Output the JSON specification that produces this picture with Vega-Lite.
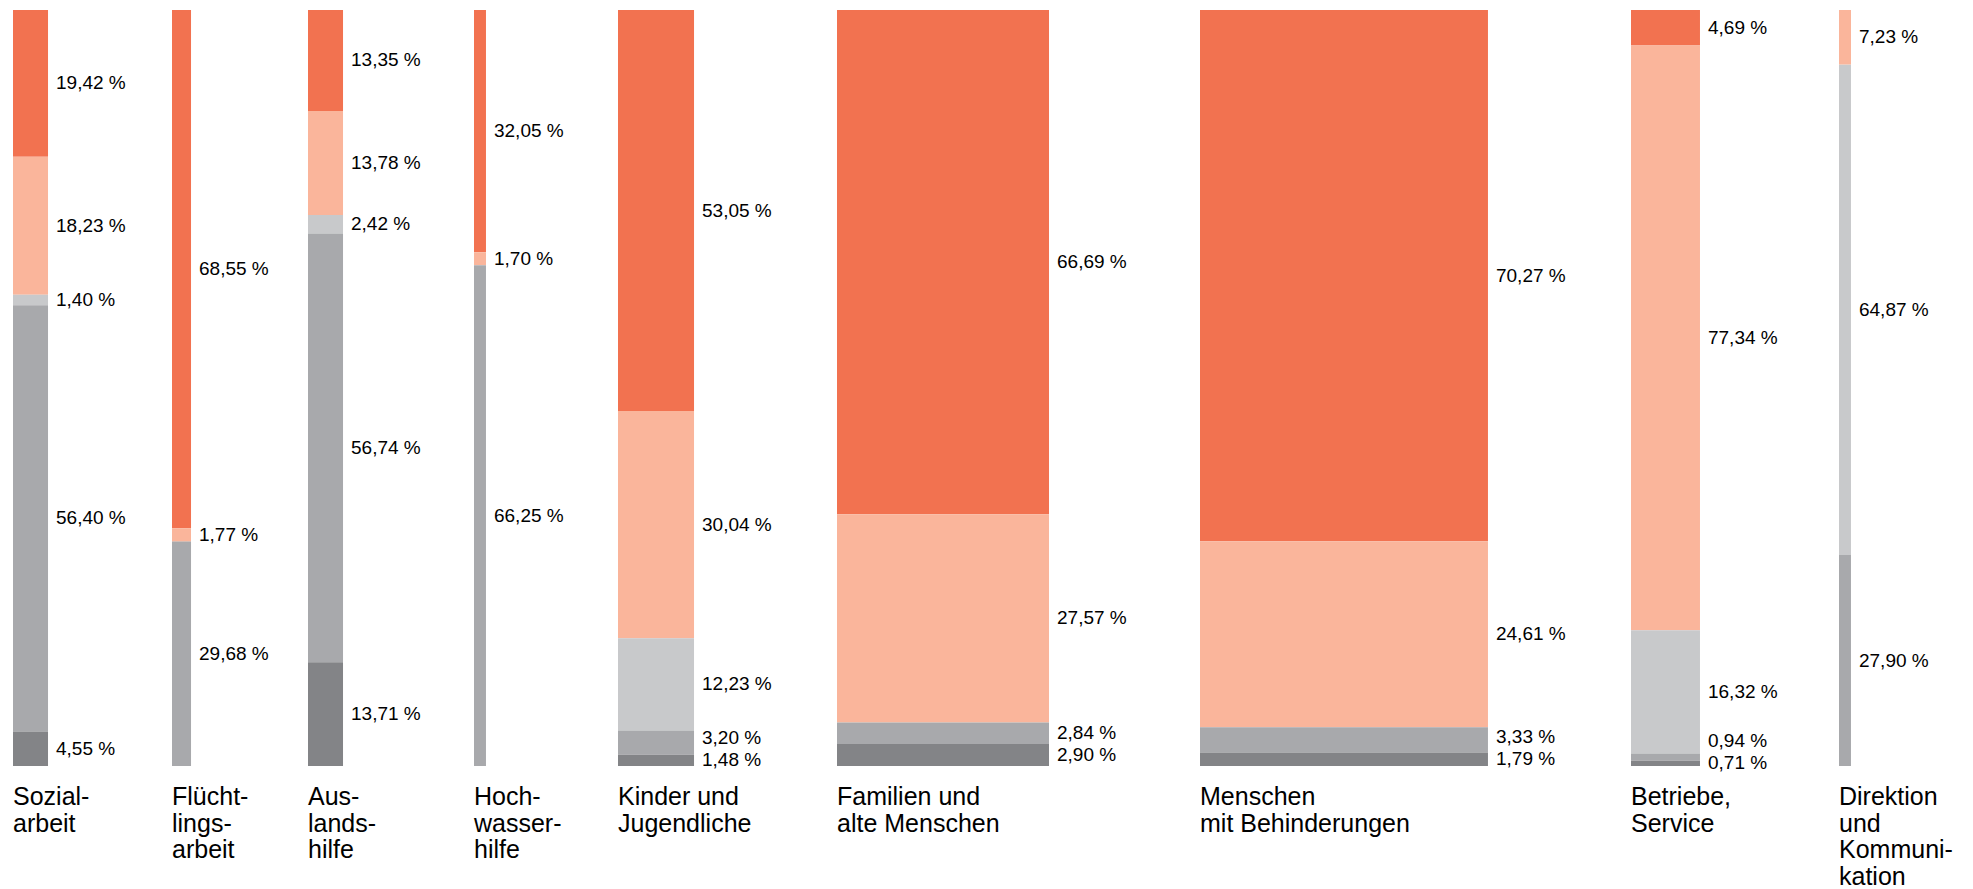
{
  "$schema": "https://vega.github.io/schema/vega-lite/v6.json",
  "padding": {"left": 13, "top": 9, "right": 0, "bottom": 0},
  "background": "#ffffff",
  "spacing": 0,
  "bounds": "flush",
  "datasets": {
    "bereiche": [
      {"Bereich": "Sozialarbeit", "Label": "Sozial-\narbeit", "Anteil": 4.62},
      {"Bereich": "Flüchtlingsarbeit", "Label": "Flücht-\nlings-\narbeit", "Anteil": 2.51},
      {"Bereich": "Auslandshilfe", "Label": "Aus-\nlands-\nhilfe", "Anteil": 4.62},
      {"Bereich": "Hochwasserhilfe", "Label": "Hoch-\nwasser-\nhilfe", "Anteil": 1.58},
      {"Bereich": "Kinder und Jugendliche", "Label": "Kinder und\nJugendliche", "Anteil": 10.03},
      {"Bereich": "Familien und alte Menschen", "Label": "Familien und\nalte Menschen", "Anteil": 27.97},
      {"Bereich": "Menschen mit Behinderungen", "Label": "Menschen\nmit Behinderungen", "Anteil": 37.99},
      {"Bereich": "Betriebe, Service", "Label": "Betriebe,\nService", "Anteil": 9.10},
      {"Bereich": "Direktion und Kommunikation", "Label": "Direktion\nund\nKommuni-\nkation", "Anteil": 1.58}
    ],
    "segmente": [
      {"Bereich": "Sozialarbeit", "Kategorie": "K1", "Wert": 19.42},
      {"Bereich": "Sozialarbeit", "Kategorie": "K2", "Wert": 18.23},
      {"Bereich": "Sozialarbeit", "Kategorie": "K3", "Wert": 1.40},
      {"Bereich": "Sozialarbeit", "Kategorie": "K4", "Wert": 56.40},
      {"Bereich": "Sozialarbeit", "Kategorie": "K5", "Wert": 4.55},
      {"Bereich": "Flüchtlingsarbeit", "Kategorie": "K1", "Wert": 68.55},
      {"Bereich": "Flüchtlingsarbeit", "Kategorie": "K2", "Wert": 1.77},
      {"Bereich": "Flüchtlingsarbeit", "Kategorie": "K4", "Wert": 29.68},
      {"Bereich": "Auslandshilfe", "Kategorie": "K1", "Wert": 13.35},
      {"Bereich": "Auslandshilfe", "Kategorie": "K2", "Wert": 13.78},
      {"Bereich": "Auslandshilfe", "Kategorie": "K3", "Wert": 2.42},
      {"Bereich": "Auslandshilfe", "Kategorie": "K4", "Wert": 56.74},
      {"Bereich": "Auslandshilfe", "Kategorie": "K5", "Wert": 13.71},
      {"Bereich": "Hochwasserhilfe", "Kategorie": "K1", "Wert": 32.05},
      {"Bereich": "Hochwasserhilfe", "Kategorie": "K2", "Wert": 1.70},
      {"Bereich": "Hochwasserhilfe", "Kategorie": "K4", "Wert": 66.25},
      {"Bereich": "Kinder und Jugendliche", "Kategorie": "K1", "Wert": 53.05},
      {"Bereich": "Kinder und Jugendliche", "Kategorie": "K2", "Wert": 30.04},
      {"Bereich": "Kinder und Jugendliche", "Kategorie": "K3", "Wert": 12.23},
      {"Bereich": "Kinder und Jugendliche", "Kategorie": "K4", "Wert": 3.20},
      {"Bereich": "Kinder und Jugendliche", "Kategorie": "K5", "Wert": 1.48},
      {"Bereich": "Familien und alte Menschen", "Kategorie": "K1", "Wert": 66.69},
      {"Bereich": "Familien und alte Menschen", "Kategorie": "K2", "Wert": 27.57},
      {"Bereich": "Familien und alte Menschen", "Kategorie": "K4", "Wert": 2.84},
      {"Bereich": "Familien und alte Menschen", "Kategorie": "K5", "Wert": 2.90},
      {"Bereich": "Menschen mit Behinderungen", "Kategorie": "K1", "Wert": 70.27},
      {"Bereich": "Menschen mit Behinderungen", "Kategorie": "K2", "Wert": 24.61},
      {"Bereich": "Menschen mit Behinderungen", "Kategorie": "K4", "Wert": 3.33},
      {"Bereich": "Menschen mit Behinderungen", "Kategorie": "K5", "Wert": 1.79},
      {"Bereich": "Betriebe, Service", "Kategorie": "K1", "Wert": 4.69},
      {"Bereich": "Betriebe, Service", "Kategorie": "K2", "Wert": 77.34},
      {"Bereich": "Betriebe, Service", "Kategorie": "K3", "Wert": 16.32},
      {"Bereich": "Betriebe, Service", "Kategorie": "K4", "Wert": 0.94},
      {"Bereich": "Betriebe, Service", "Kategorie": "K5", "Wert": 0.71},
      {"Bereich": "Direktion und Kommunikation", "Kategorie": "K2", "Wert": 7.23},
      {"Bereich": "Direktion und Kommunikation", "Kategorie": "K3", "Wert": 64.87},
      {"Bereich": "Direktion und Kommunikation", "Kategorie": "K4", "Wert": 27.90}
    ]
  },
  "data": {"name": "segmente"},
  "transform": [
    {"lookup": "Bereich", "from": {"data": {"name": "bereiche"}, "key": "Bereich", "fields": ["Anteil", "Label"]}},
    {"calculate": "replace(format(datum.Wert, '.2f'), '.', ',') + ' %'", "as": "Text"},
    {"calculate": "0", "as": "Basis"},
    {"stack": "Wert", "groupby": ["Bereich"], "sort": [{"field": "Kategorie", "order": "descending"}], "as": ["y0", "y1"]},
    {"calculate": "(datum.y0 + datum.y1) / 2", "as": "mid"},
    {"window": [{"op": "lag", "field": "mid", "as": "prevMid"}], "groupby": ["Bereich"], "sort": [{"field": "y0", "order": "ascending"}]},
    {"calculate": "datum.prevMid == null ? datum.mid : max(datum.mid, datum.prevMid + 2.9)", "as": "labelY"}
  ],
  "hconcat": [
    {"width": 159, "height": 756, "transform": [{"filter": {"field": "Bereich", "equal": "Sozialarbeit"}}],
     "layer": [
      {"mark": {"type": "bar"}, "encoding": {"x": {"field": "Basis", "type": "quantitative", "scale": {"domain": [0, 100], "range": [0, 758]}, "axis": null}, "x2": {"field": "Anteil"}, "y": {"field": "y0", "type": "quantitative", "scale": {"domain": [0, 100], "nice": false}, "axis": null}, "y2": {"field": "y1"}, "color": {"field": "Kategorie", "type": "nominal", "scale": {"domain": ["K1", "K2", "K3", "K4", "K5"], "range": ["#F27250", "#FAB59B", "#C8C9CB", "#A8A9AC", "#838487"]}, "legend": null}}},
      {"mark": {"type": "text", "style": "seglabel"}, "encoding": {"x": {"field": "Anteil", "type": "quantitative"}, "y": {"field": "labelY", "type": "quantitative"}, "text": {"field": "Text", "type": "nominal"}}},
      {"transform": [{"filter": "datum.y0 == 0"}], "mark": {"type": "text", "style": "catlabel"}, "encoding": {"x": {"field": "Basis", "type": "quantitative"}, "y": {"field": "Basis", "type": "quantitative"}, "text": {"field": "Label", "type": "nominal"}}}
     ]},
    {"width": 136, "height": 756, "transform": [{"filter": {"field": "Bereich", "equal": "Flüchtlingsarbeit"}}],
     "layer": [
      {"mark": {"type": "bar"}, "encoding": {"x": {"field": "Basis", "type": "quantitative", "scale": {"domain": [0, 100], "range": [0, 758]}, "axis": null}, "x2": {"field": "Anteil"}, "y": {"field": "y0", "type": "quantitative", "scale": {"domain": [0, 100], "nice": false}, "axis": null}, "y2": {"field": "y1"}, "color": {"field": "Kategorie", "type": "nominal", "scale": {"domain": ["K1", "K2", "K3", "K4", "K5"], "range": ["#F27250", "#FAB59B", "#C8C9CB", "#A8A9AC", "#838487"]}, "legend": null}}},
      {"mark": {"type": "text", "style": "seglabel"}, "encoding": {"x": {"field": "Anteil", "type": "quantitative"}, "y": {"field": "labelY", "type": "quantitative"}, "text": {"field": "Text", "type": "nominal"}}},
      {"transform": [{"filter": "datum.y0 == 0"}], "mark": {"type": "text", "style": "catlabel"}, "encoding": {"x": {"field": "Basis", "type": "quantitative"}, "y": {"field": "Basis", "type": "quantitative"}, "text": {"field": "Label", "type": "nominal"}}}
     ]},
    {"width": 166, "height": 756, "transform": [{"filter": {"field": "Bereich", "equal": "Auslandshilfe"}}],
     "layer": [
      {"mark": {"type": "bar"}, "encoding": {"x": {"field": "Basis", "type": "quantitative", "scale": {"domain": [0, 100], "range": [0, 758]}, "axis": null}, "x2": {"field": "Anteil"}, "y": {"field": "y0", "type": "quantitative", "scale": {"domain": [0, 100], "nice": false}, "axis": null}, "y2": {"field": "y1"}, "color": {"field": "Kategorie", "type": "nominal", "scale": {"domain": ["K1", "K2", "K3", "K4", "K5"], "range": ["#F27250", "#FAB59B", "#C8C9CB", "#A8A9AC", "#838487"]}, "legend": null}}},
      {"mark": {"type": "text", "style": "seglabel"}, "encoding": {"x": {"field": "Anteil", "type": "quantitative"}, "y": {"field": "labelY", "type": "quantitative"}, "text": {"field": "Text", "type": "nominal"}}},
      {"transform": [{"filter": "datum.y0 == 0"}], "mark": {"type": "text", "style": "catlabel"}, "encoding": {"x": {"field": "Basis", "type": "quantitative"}, "y": {"field": "Basis", "type": "quantitative"}, "text": {"field": "Label", "type": "nominal"}}}
     ]},
    {"width": 144, "height": 756, "transform": [{"filter": {"field": "Bereich", "equal": "Hochwasserhilfe"}}],
     "layer": [
      {"mark": {"type": "bar"}, "encoding": {"x": {"field": "Basis", "type": "quantitative", "scale": {"domain": [0, 100], "range": [0, 758]}, "axis": null}, "x2": {"field": "Anteil"}, "y": {"field": "y0", "type": "quantitative", "scale": {"domain": [0, 100], "nice": false}, "axis": null}, "y2": {"field": "y1"}, "color": {"field": "Kategorie", "type": "nominal", "scale": {"domain": ["K1", "K2", "K3", "K4", "K5"], "range": ["#F27250", "#FAB59B", "#C8C9CB", "#A8A9AC", "#838487"]}, "legend": null}}},
      {"mark": {"type": "text", "style": "seglabel"}, "encoding": {"x": {"field": "Anteil", "type": "quantitative"}, "y": {"field": "labelY", "type": "quantitative"}, "text": {"field": "Text", "type": "nominal"}}},
      {"transform": [{"filter": "datum.y0 == 0"}], "mark": {"type": "text", "style": "catlabel"}, "encoding": {"x": {"field": "Basis", "type": "quantitative"}, "y": {"field": "Basis", "type": "quantitative"}, "text": {"field": "Label", "type": "nominal"}}}
     ]},
    {"width": 219, "height": 756, "transform": [{"filter": {"field": "Bereich", "equal": "Kinder und Jugendliche"}}],
     "layer": [
      {"mark": {"type": "bar"}, "encoding": {"x": {"field": "Basis", "type": "quantitative", "scale": {"domain": [0, 100], "range": [0, 758]}, "axis": null}, "x2": {"field": "Anteil"}, "y": {"field": "y0", "type": "quantitative", "scale": {"domain": [0, 100], "nice": false}, "axis": null}, "y2": {"field": "y1"}, "color": {"field": "Kategorie", "type": "nominal", "scale": {"domain": ["K1", "K2", "K3", "K4", "K5"], "range": ["#F27250", "#FAB59B", "#C8C9CB", "#A8A9AC", "#838487"]}, "legend": null}}},
      {"mark": {"type": "text", "style": "seglabel"}, "encoding": {"x": {"field": "Anteil", "type": "quantitative"}, "y": {"field": "labelY", "type": "quantitative"}, "text": {"field": "Text", "type": "nominal"}}},
      {"transform": [{"filter": "datum.y0 == 0"}], "mark": {"type": "text", "style": "catlabel"}, "encoding": {"x": {"field": "Basis", "type": "quantitative"}, "y": {"field": "Basis", "type": "quantitative"}, "text": {"field": "Label", "type": "nominal"}}}
     ]},
    {"width": 363, "height": 756, "transform": [{"filter": {"field": "Bereich", "equal": "Familien und alte Menschen"}}],
     "layer": [
      {"mark": {"type": "bar"}, "encoding": {"x": {"field": "Basis", "type": "quantitative", "scale": {"domain": [0, 100], "range": [0, 758]}, "axis": null}, "x2": {"field": "Anteil"}, "y": {"field": "y0", "type": "quantitative", "scale": {"domain": [0, 100], "nice": false}, "axis": null}, "y2": {"field": "y1"}, "color": {"field": "Kategorie", "type": "nominal", "scale": {"domain": ["K1", "K2", "K3", "K4", "K5"], "range": ["#F27250", "#FAB59B", "#C8C9CB", "#A8A9AC", "#838487"]}, "legend": null}}},
      {"mark": {"type": "text", "style": "seglabel"}, "encoding": {"x": {"field": "Anteil", "type": "quantitative"}, "y": {"field": "labelY", "type": "quantitative"}, "text": {"field": "Text", "type": "nominal"}}},
      {"transform": [{"filter": "datum.y0 == 0"}], "mark": {"type": "text", "style": "catlabel"}, "encoding": {"x": {"field": "Basis", "type": "quantitative"}, "y": {"field": "Basis", "type": "quantitative"}, "text": {"field": "Label", "type": "nominal"}}}
     ]},
    {"width": 431, "height": 756, "transform": [{"filter": {"field": "Bereich", "equal": "Menschen mit Behinderungen"}}],
     "layer": [
      {"mark": {"type": "bar"}, "encoding": {"x": {"field": "Basis", "type": "quantitative", "scale": {"domain": [0, 100], "range": [0, 758]}, "axis": null}, "x2": {"field": "Anteil"}, "y": {"field": "y0", "type": "quantitative", "scale": {"domain": [0, 100], "nice": false}, "axis": null}, "y2": {"field": "y1"}, "color": {"field": "Kategorie", "type": "nominal", "scale": {"domain": ["K1", "K2", "K3", "K4", "K5"], "range": ["#F27250", "#FAB59B", "#C8C9CB", "#A8A9AC", "#838487"]}, "legend": null}}},
      {"mark": {"type": "text", "style": "seglabel"}, "encoding": {"x": {"field": "Anteil", "type": "quantitative"}, "y": {"field": "labelY", "type": "quantitative"}, "text": {"field": "Text", "type": "nominal"}}},
      {"transform": [{"filter": "datum.y0 == 0"}], "mark": {"type": "text", "style": "catlabel"}, "encoding": {"x": {"field": "Basis", "type": "quantitative"}, "y": {"field": "Basis", "type": "quantitative"}, "text": {"field": "Label", "type": "nominal"}}}
     ]},
    {"width": 208, "height": 756, "transform": [{"filter": {"field": "Bereich", "equal": "Betriebe, Service"}}],
     "layer": [
      {"mark": {"type": "bar"}, "encoding": {"x": {"field": "Basis", "type": "quantitative", "scale": {"domain": [0, 100], "range": [0, 758]}, "axis": null}, "x2": {"field": "Anteil"}, "y": {"field": "y0", "type": "quantitative", "scale": {"domain": [0, 100], "nice": false}, "axis": null}, "y2": {"field": "y1"}, "color": {"field": "Kategorie", "type": "nominal", "scale": {"domain": ["K1", "K2", "K3", "K4", "K5"], "range": ["#F27250", "#FAB59B", "#C8C9CB", "#A8A9AC", "#838487"]}, "legend": null}}},
      {"mark": {"type": "text", "style": "seglabel"}, "encoding": {"x": {"field": "Anteil", "type": "quantitative"}, "y": {"field": "labelY", "type": "quantitative"}, "text": {"field": "Text", "type": "nominal"}}},
      {"transform": [{"filter": "datum.y0 == 0"}], "mark": {"type": "text", "style": "catlabel"}, "encoding": {"x": {"field": "Basis", "type": "quantitative"}, "y": {"field": "Basis", "type": "quantitative"}, "text": {"field": "Label", "type": "nominal"}}}
     ]},
    {"width": 120, "height": 756, "transform": [{"filter": {"field": "Bereich", "equal": "Direktion und Kommunikation"}}],
     "layer": [
      {"mark": {"type": "bar"}, "encoding": {"x": {"field": "Basis", "type": "quantitative", "scale": {"domain": [0, 100], "range": [0, 758]}, "axis": null}, "x2": {"field": "Anteil"}, "y": {"field": "y0", "type": "quantitative", "scale": {"domain": [0, 100], "nice": false}, "axis": null}, "y2": {"field": "y1"}, "color": {"field": "Kategorie", "type": "nominal", "scale": {"domain": ["K1", "K2", "K3", "K4", "K5"], "range": ["#F27250", "#FAB59B", "#C8C9CB", "#A8A9AC", "#838487"]}, "legend": null}}},
      {"mark": {"type": "text", "style": "seglabel"}, "encoding": {"x": {"field": "Anteil", "type": "quantitative"}, "y": {"field": "labelY", "type": "quantitative"}, "text": {"field": "Text", "type": "nominal"}}},
      {"transform": [{"filter": "datum.y0 == 0"}], "mark": {"type": "text", "style": "catlabel"}, "encoding": {"x": {"field": "Basis", "type": "quantitative"}, "y": {"field": "Basis", "type": "quantitative"}, "text": {"field": "Label", "type": "nominal"}}}
     ]}
  ],
  "config": {
    "view": {"stroke": null},
    "style": {
      "seglabel": {"align": "left", "baseline": "middle", "dx": 8, "fontSize": 19, "font": "Liberation Sans", "fill": "#2b2b2b"},
      "catlabel": {"align": "left", "baseline": "alphabetic", "dy": 39, "fontSize": 25, "lineHeight": 26.5, "lineBreak": "\n", "font": "Liberation Sans", "fill": "#2b2b2b"}
    }
  }
}
